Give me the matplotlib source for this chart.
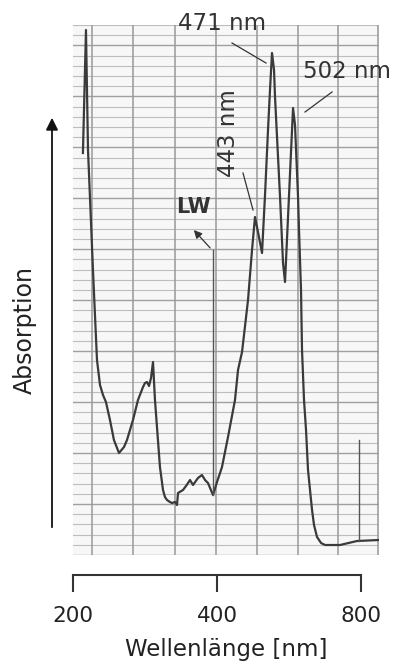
import matplotlib.pyplot as plt
import numpy as np

# Spektrum (Schreiberkurve), Wellenlänge in nm, Absorption in Skalenteilen
wl = [210.8, 213.9, 216.0, 221.2, 225.5, 228.8, 232.1, 235.4, 240.0, 244.6,
      250.6, 256.7, 260.4, 268.0, 274.5, 281.2, 283.9, 286.6, 289.4, 292.2,
      295.0, 297.8, 305.0, 309.5, 312.4, 315.5, 320.0, 323.1, 327.8, 331.0,
      332.6, 340.6, 345.6, 352.3, 357.4, 366.0, 373.1, 378.6, 384.0, 393.4,
      401.0, 410.7, 422.7, 437.1, 443.5, 452.1, 456.4, 465.3, 474.3, 481.1,
      488.1, 497.6, 504.8, 512.1, 517.0, 522.0, 527.1, 529.6, 542.5, 550.3,
      555.6, 563.7, 571.8, 577.4, 582.9, 591.4, 594.2, 599.9, 602.8, 608.6,
      614.5, 620.4, 626.4, 632.5, 638.5, 647.8, 660.4, 673.1, 723.4, 784.8,
      872.2]
absorb = [40.2, 52.5, 40.5, 28.5, 19.5, 17.0, 16.0, 15.3, 13.5, 11.5,
          10.2, 10.8, 11.5, 13.5, 15.5, 16.8, 17.2, 17.3, 16.9, 17.7,
          19.3, 15.5, 8.8, 6.5, 5.8, 5.5, 5.3, 5.2, 5.3, 5.0,
          6.2, 6.5, 6.9, 7.5, 7.0, 7.7, 8.0, 7.5, 7.2, 6.0,
          7.3, 8.8, 11.8, 15.5, 18.5, 20.3, 22.0, 25.5, 30.5, 33.8,
          32.3, 30.2, 36.0, 42.5, 46.5, 50.2, 48.5, 45.8, 35.8, 29.2,
          27.3, 33.8, 40.3, 44.7, 43.0, 35.8, 32.5, 26.5, 20.5, 15.5,
          12.5, 8.5, 6.5, 4.5, 3.0, 1.8, 1.2, 1.0, 1.0, 1.4,
          1.5]

# Markierungen (LW-Lampenwechsel, 800-nm-Marke)
lw_wl, lw_abs = [393.4, 393.4], [6.0, 30.5]
mark_wl, mark_abs = [792.4, 792.4], [1.4, 11.5]

xticks = [200, 400, 800]

ink = '#333333'

fig = plt.figure(figsize=(4, 6.65), dpi=100)
rect = [73/400, 1-555/665, 306/400, 530/665]

# Schreiberpapier
bg = fig.add_axes(rect)
bg.set_xlim(0, 1)
bg.set_ylim(0, 1)
bg.set_facecolor('#f7f7f7')
for i, y in enumerate(np.linspace(0, 1, 53)):
    bg.axhline(y, color='#a0a0a0' if i % 5 == 0 else '#bdbdbd',
               lw=1.0 if i % 5 == 0 else 0.8)
for x in [0.062, 0.196, 0.333, 0.467, 0.601, 0.735, 0.866, 0.997]:
    bg.axvline(x, color='#999999', lw=1.1)
bg.set_xticks([])
bg.set_yticks([])
for s in bg.spines.values():
    s.set_visible(False)

ax = fig.add_axes(rect)
ax.patch.set_alpha(0)
ax.set_xscale('log')
ax.set_xlim(201, 872)
ax.set_ylim(0, 53)
ax.plot(wl, absorb, color='#3a3a3a', lw=1.6)
ax.plot(lw_wl, lw_abs, color='#555555', lw=1.0)
ax.plot(mark_wl, mark_abs, color='#555555', lw=1.0)
ax.axis('off')

# Beschriftung der Banden
ax.text(410.7, 53.2, '471 nm', ha='center', va='center', fontsize=16.5, color=ink, clip_on=False)
ax.plot([430.9, 507.2], [51.2, 49.2], color=ink, lw=0.9)
ax.text(748.1, 48.4, '502 nm', ha='center', va='center', fontsize=16.5, color=ink, clip_on=False)
ax.plot([696.1, 611.6], [46.3, 44.3], color=ink, lw=0.9)
ax.text(422.7, 42.2, '443 nm', ha='center', va='center', rotation=90, fontsize=16.5, color=ink)
ax.plot([454.2, 476.6], [38.2, 34.5], color=ink, lw=0.9)
ax.text(357.4, 34.8, 'LW', ha='center', va='center', fontsize=15, fontweight='bold', color=ink)
ax.annotate('', xy=(355.6, 32.7), xytext=(391.5, 30.5),
            arrowprops=dict(arrowstyle='-|>', color=ink, lw=0.9, mutation_scale=12))

# Wellenlängenachse
axx = fig.add_axes([73/400, 1-575/665, 306/400, 0.001])
axx.set_xscale('log')
axx.set_xlim(201, 872)
axx.set_yticks([])
for s in ['top', 'left', 'right']:
    axx.spines[s].set_visible(False)
axx.spines['bottom'].set_bounds(200, 800)
axx.spines['bottom'].set_color(ink)
axx.spines['bottom'].set_linewidth(1.5)
axx.spines['bottom'].set_clip_on(False)
axx.set_xticks(xticks)
axx.set_xticklabels([str(t) for t in xticks])
axx.minorticks_off()
axx.tick_params(axis='x', direction='out', length=12, width=1.5, color=ink,
                pad=10, labelsize=15.5, labelcolor='#222222')
axx.patch.set_alpha(0)
axx.set_xlabel('Wellenlänge [nm]', fontsize=16.5, color='#222222', labelpad=9)

# Absorptionspfeil
fig.patches.append(plt.matplotlib.patches.FancyArrowPatch(
    (52/400, 1-530/665), (52/400, 1-115/665), transform=fig.transFigure,
    arrowstyle='-|>', mutation_scale=18, color='#111111', lw=1.3))
fig.text(25/400, 1-330/665, 'Absorption', rotation=90, ha='center', va='center',
         fontsize=17, color='#222222')

plt.savefig('out.png', dpi=100)
